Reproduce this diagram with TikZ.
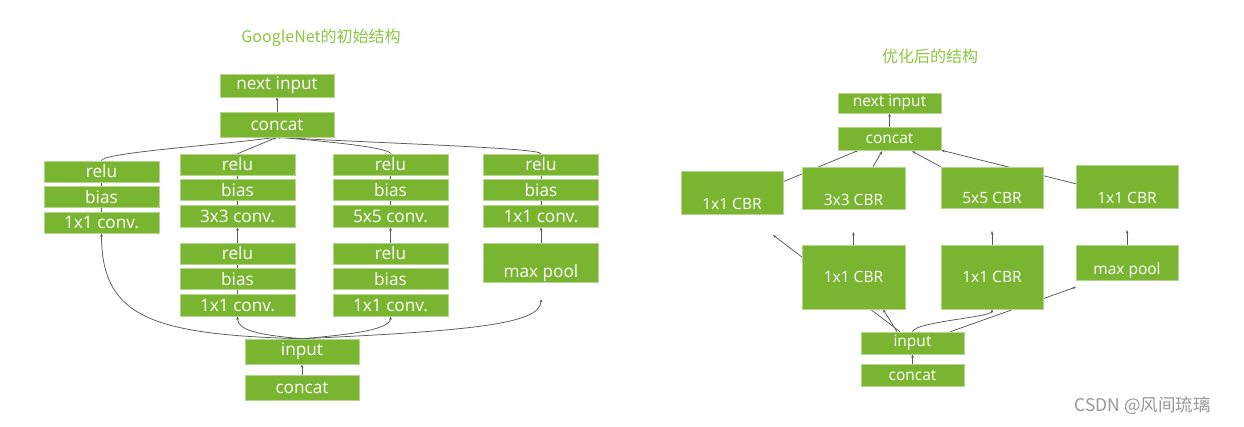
\documentclass[tikz,border=0pt]{standalone}
\usepackage{fontspec}
\setmainfont{Open Sans}
\newfontfamily\cjk{Noto Sans CJK SC}
\usepackage{tikz}
\usetikzlibrary{positioning, calc, arrows.meta, backgrounds}
\definecolor{nvgreen}{HTML}{7AB532}
\definecolor{ttlgreen}{HTML}{8DC641}
\definecolor{linkgray}{HTML}{595959}
\tikzset{
  blk/.style={fill=nvgreen, draw=nvgreen!55!white, line width=0.5pt, text=white,
    inner sep=0pt, minimum width=115pt, minimum height=21pt,
    font=\fontsize{17.2}{17}\selectfont},
  rblk/.style={blk, minimum width=103pt, font=\fontsize{15.5}{15}\selectfont},
  lnk/.style={draw=linkgray, line width=0.75pt},
  arr/.style={lnk, -{Stealth[length=3.5pt, width=2.6pt]}},
  ttl/.style={text=ttlgreen, font=\cjk\fontsize{16}{16}\selectfont},
  wmk/.style={text=black!40, font=\cjk\fontsize{17.5}{17}\selectfont},
}

\begin{document}
\begin{tikzpicture}[x=1pt, y=1pt]
\useasboundingbox (0,0) rectangle (1244,426);
\begin{scope}[on background layer]
  \fill[white] (0,0) rectangle (1244,426);
\end{scope}
%GoogleNet
\node[ttl] (ttl1) at (321,388) {GoogleNet的初始结构};
\node[blk, minimum width=114pt, minimum height=23pt] (nxt1) at (277,340.5) {next input};
\node[blk, minimum width=114pt, minimum height=25pt] (cat1) at (277,301.5) {concat};
\node[blk] (r1) at (101.5,254.5) {relu};
\node[blk, below=4pt of r1] (b1) {bias};
\node[blk, below=4pt of b1] (v1) {1x1 conv.};
\node[blk] (r2) at (237.5,261.5) {relu};
\node[blk, below=4pt of r2] (b2) {bias};
\node[blk, below=4pt of b2, minimum height=22pt] (v2) {3x3 conv.};
\node[blk] (r2b) at (237.5,172.5) {relu};
\node[blk, below=4pt of r2b] (b2b) {bias};
\node[blk, below=4pt of b2b, minimum height=22pt] (v2b) {1x1 conv.};
\node[blk] (r3) at (390.5,261.5) {relu};
\node[blk, below=4pt of r3] (b3) {bias};
\node[blk, below=4pt of b3, minimum height=22pt] (v3) {5x5 conv.};
\node[blk] (r3b) at (390.5,172.5) {relu};
\node[blk, below=4pt of r3b] (b3b) {bias};
\node[blk, below=4pt of b3b, minimum height=22pt] (v3b) {1x1 conv.};
\node[blk] (r4) at (541,261.5) {relu};
\node[blk, below=4pt of r4] (b4) {bias};
\node[blk, below=4pt of b4, minimum height=22pt] (v4) {1x1 conv.};
\node[blk, text height=34pt, text depth=5pt] (p4) at (541,163.5) {max pool};
\node[blk, minimum width=114pt, minimum height=25pt] (in1) at (302,74.5) {input};
\node[blk, minimum width=114pt, minimum height=25pt] (cc1) at (302,38.5) {concat};
\coordinate (p4in) at (541,127);
\begin{scope}[on background layer]
  \draw[lnk] (v1) -- (r1);
  \draw[lnk] (v2) -- (r2);
  \draw[lnk] (v2b) -- (r2b);
  \draw[lnk] (v3) -- (r3);
  \draw[lnk] (v4) -- (r4);
  \draw[arr] (r2b) -- (v2);
  \draw[arr] (r3b) -- (v3);
  \draw[arr] (p4) -- (v4);
  \draw[arr] (r1.north) .. controls +(0,8) and +(-60,-8) .. (cat1.south);
  \draw[arr] (r2.north) -- (cat1.south);
  \draw[arr] (r3.north) .. controls +(0,6) and +(50,-4) .. (cat1.south);
  \draw[arr] (r4.north) .. controls +(0,6) and +(100,-6) .. (cat1.south);
  \draw[arr] (cat1) -- (nxt1);
  \draw[arr] (in1.north) .. controls +(-150,4) and +(0,-84) .. (v1.south);
  \draw[arr] (in1.north) .. controls +(-45,4) and +(0,-14) .. (v2b.south);
  \draw[arr] (in1.north) .. controls +(45,4) and +(0,-14) .. (v3b.south);
  \draw[arr] (in1.north) .. controls +(170,8) and +(0,-25) .. (p4in);
  \draw[arr] (cc1) -- (in1);
\end{scope}
%optimized
\node[ttl] (ttl2) at (930,370) {优化后的结构};
\node[rblk, minimum height=20pt] (nxt2) at (889.5,323) {next input};
\node[rblk, minimum height=23pt] (cat2) at (889.5,287.5) {concat};
\node[rblk, minimum width=102pt, text height=39pt, text depth=4pt] (u1) at (732,233.5) {1x1 CBR};
\node[rblk, text height=38.5pt, text depth=3.5pt] (u2) at (853.5,238) {3x3 CBR};
\node[rblk, minimum width=102pt, text height=37pt, text depth=4pt] (u3) at (992,238.5) {5x5 CBR};
\node[rblk, minimum width=102pt, text height=39pt, text depth=4pt] (u4) at (1127,239.5) {1x1 CBR};
\node[rblk, minimum height=64pt] (l1) at (853.5,149) {1x1 CBR};
\node[rblk, minimum width=102pt, minimum height=64pt] (l2) at (992,149) {1x1 CBR};
\node[rblk, minimum width=102pt, text height=30pt, text depth=5pt] (l3) at (1127,163.5) {max pool};
\node[rblk, minimum height=22pt] (in2) at (912.5,83) {input};
\node[rblk, minimum height=22pt] (cc2) at (912.5,51) {concat};
\coordinate (t0) at (773,191);
\coordinate (t1) at (853.5,194);
\coordinate (t2) at (992,195);
\coordinate (t3) at (1127,196);
\coordinate (t4) at (1076,139);
\begin{scope}[on background layer]
  \draw[arr] (cat2) -- (nxt2);
  \draw[arr] ($(u1.north east)+(0,-11)$) -- ($(cat2.south)+(-31,0)$);
  \draw[arr] ($(u2.north)+(19.5,0)$) -- ($(cat2.south)+(-7.5,-1)$);
  \draw[arr] (u3.north west) -- ($(cat2.south)+(22.5,-1)$);
  \draw[arr] ($(u4.north west)+(0,-19)$) -- (cat2.south east);
  \draw[arr] (l1) -- (t1);
  \draw[arr] (l2) -- (t2);
  \draw[arr] (l3) -- (t3);
  \draw[arr] ($(in2.north)+(-12.5,0)$) -- (t0);
  \draw[arr] ($(in2.north)+(-15.5,0)$) -- ($(l1.south)+(29.5,0)$);
  \draw[arr] (in2.north) .. controls +(2,10) and +(0,-8) .. (l2.south);
  \draw[arr] ($(in2.north east)+(-14,0)$) -- (t4);
  \draw[arr] (cc2) -- (in2);
\end{scope}
\node[wmk, anchor=west] (wm) at (1071,20) {CSDN @风间琉璃};
\end{tikzpicture}
\end{document}
